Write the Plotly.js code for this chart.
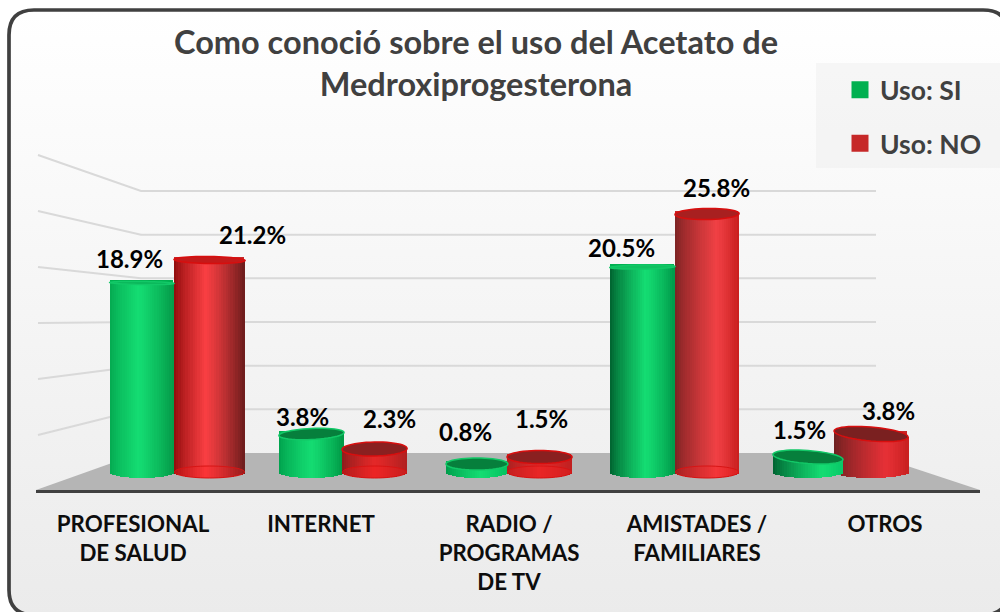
<!DOCTYPE html>
<html><head><meta charset="utf-8">
<script src="https://cdn.plot.ly/plotly-3.0.1.min.js"></script>
<style>
html,body{margin:0;padding:0;width:1000px;height:612px;overflow:hidden;background:#fff}
#bg{position:absolute;left:9px;top:10px;width:999px;height:605px;border-radius:25px;background:linear-gradient(180deg,#ffffff 0%,#fbfbfb 20%,#f3f3f3 60%,#ebebeb 100%)}
#chart{position:absolute;left:0;top:0;width:1000px;height:612px}
</style></head><body>
<div id="bg"></div><div id="chart"></div>
<script>
// ---- data ----
const categories = ['PROFESIONAL<br>DE SALUD','INTERNET','RADIO /<br>PROGRAMAS<br>DE TV','AMISTADES /<br>FAMILIARES','OTROS'];
const usoSi = [18.9, 3.8, 0.8, 20.5, 1.5];
const usoNo = [21.2, 2.3, 1.5, 25.8, 3.8];
const gridValues = [5,10,15,20,25,30];

// ---- cylinder styling / perspective (axis units and pixels) ----
const siX = [-0.211,0.81,1.807,2.804,3.801], siW = [0.386,0.392,0.373,0.392,0.422];
const noX = [0.196,1.19,2.184,3.193,4.181],  noW = [0.428,0.392,0.392,0.386,0.446];
const siRy = [1.5,5.5,6,2,6.5], noRy = [3.5,7,6.5,5.5,7];
const siTilt = [1,-3,0,-1,5],  noTilt = [1,-1,0,-1,6];
const siLeft = ['#04a850','#00a04c','#009a4a','#005f2e','#006030'];
const siRight= ['#049a48','#009845','#04c060','#009a4a','#08c868'];
const siHi = [.45,.5,.55,.55,.7];
const noLeft = ['#8c0a0a','#8a1c1c','#a82020','#7a2222','#6a2020'];
const noMid  = ['#f83e42','#e42828','#e02a2a','#f04044','#e63036'];
const noRight= ['#6b1c1c','#b02020','#c02020','#c81e1e','#c82020'];
const noHi = [.45,.5,.5,.65,.7];
const siCap = ['#0ab458','#067f3c','#067f3c','#10c060','#067f3c'];
const noCap = ['#c41a1a','#8a2020','#8a2020','#a82020','#7a2020'];
const siDx = [-12,-8.5,-11,-20.5,-8], siDy = [25,18,33,20,28];
const noDx = [42.5,14.5,1.5,9,17], noDy = [26,31,39,27,24];

// ---- pixel helpers ----
const X = p => (p-177)/166, Y = p => (472-p)/10;
const PX = p => (p-36)/944, PY = p => (490-p)/490;
const N = 30, baseRy = 6;

function hex(c){return [1,3,5].map(i=>parseInt(c.substr(i,2),16));}
function mix(a,b,t){const A=hex(a),B=hex(b);return 'rgb('+A.map((v,i)=>Math.round(v+(B[i]-v)*t)).join(',')+')';}
function shade(l,m,r,h,t){return t<h?mix(l,m,Math.pow(t/h,.8)):mix(m,r,Math.pow((t-h)/(1-h),1.2));}

function strips(val,cx,w,tilt,l,m,r,h,name){
  const x=[],y=[],base=[],col=[];
  for(let k=0;k<N;k++){
    const t=(k+.5)/N,u=2*t-1;
    const b=-(baseRy/10)*Math.sqrt(1-u*u);
    const top=val+(-tilt/2*u)/10;
    x.push(cx+(t-.5)*w); y.push(top-b); base.push(b); col.push(shade(l,m,r,h,t));
  }
  return {type:'bar',x,y,base,width:w/N*1.35,marker:{color:col,line:{width:0}},showlegend:false,hoverinfo:'skip',name};
}
function ellipse(cx,cy,w,ry,tilt){
  let d='';const n=48;
  for(let k=0;k<=n;k++){
    const a=2*Math.PI*k/n;
    const u=Math.cos(a),v=Math.sin(a);
    d+=(k?'L':'M')+(cx+u*w/2)+','+(cy+(-tilt/2*u-ry*v)/10)+' ';
  }
  return d+'Z';
}

// main series (carry real values and the legend)
const traces=[
 {type:'bar',name:'Uso: SI',x:siX,y:usoSi,width:siW.map(w=>w-.036),marker:{color:'#00b050',line:{color:'#00b050',width:5}},legendgroup:'a',hoverinfo:'y+name'},
 {type:'bar',name:'Uso: NO',x:noX,y:usoNo,width:noW.map(w=>w-.036),marker:{color:'#c62828',line:{color:'#c62828',width:5}},legendgroup:'b',hoverinfo:'y+name'}
];
const gray='#d9d9d9';
const shapes=[];
// legend backdrop
shapes.push({type:'rect',xref:'paper',yref:'paper',x0:PX(816),x1:PX(1001),y0:PY(168),y1:PY(63),fillcolor:'rgba(235,235,235,.38)',line:{width:0},layer:'below'});
// floor
shapes.push({type:'path',xref:'x',yref:'y',layer:'below',path:`M${X(36)},${Y(490)} L${X(140)},${Y(453)} L${X(868)},${Y(453)} L${X(980)},${Y(490)} Z`,fillcolor:'#b5b5b5',line:{width:0}});
// walls
gridValues.forEach(v=>{
  const back=453-v*8.733, side=491-v*11.2;
  shapes.push({type:'path',xref:'x',yref:'y',layer:'below',path:`M${X(38)},${Y(side)} L${X(141)},${Y(back)} L${X(876)},${Y(back)}`,line:{color:gray,width:2}});
});
// cylinder strips: the "otros" NO goes behind its SI neighbour
const drawOrder=[];
for(let i=0;i<5;i++){
  const si=strips(usoSi[i],siX[i],siW[i],siTilt[i],siLeft[i],'#14dc72',siRight[i],siHi[i],'si'+i);
  const no=strips(usoNo[i],noX[i],noW[i],noTilt[i],noLeft[i],noMid[i],noRight[i],noHi[i],'no'+i);
  if(i===4) drawOrder.push(no,si); else drawOrder.push(si,no);
}
traces.push(...drawOrder);
// caps and bottom rims
for(let i=0;i<5;i++){
  if(i<4) shapes.push({type:'path',xref:'x',yref:'y',path:ellipse(noX[i],0,noW[i]*.985,baseRy,0),line:{color:'#d81414',width:1},fillcolor:'rgba(255,30,30,.28)'});
  shapes.push({type:'path',xref:'x',yref:'y',path:ellipse(noX[i],usoNo[i],noW[i],noRy[i],noTilt[i]),fillcolor:noCap[i],line:{color:'#d80e0e',width:1.5}});
  shapes.push({type:'path',xref:'x',yref:'y',path:ellipse(siX[i],usoSi[i],siW[i],siRy[i],siTilt[i]),fillcolor:siCap[i],line:{color:'#12c867',width:1.5}});
}
// data labels
const labelFont={family:'Lato, sans-serif',size:24,color:'#000',weight:700};
const annotations=[];
usoSi.forEach((v,i)=>annotations.push({x:siX[i],y:v,xref:'x',yref:'y',xshift:siDx[i],yshift:siDy[i],text:v.toFixed(1)+'%',showarrow:false,font:labelFont,xanchor:'center',yanchor:'middle'}));
usoNo.forEach((v,i)=>annotations.push({x:noX[i],y:v,xref:'x',yref:'y',xshift:noDx[i],yshift:noDy[i],text:v.toFixed(1)+'%',showarrow:false,font:labelFont,xanchor:'center',yanchor:'middle'}));

const layout={
  width:1000,height:612,margin:{l:36,r:20,t:0,b:122,autoexpand:false},
  paper_bgcolor:'rgba(0,0,0,0)',plot_bgcolor:'rgba(0,0,0,0)',
  barmode:'overlay',bargap:0,showlegend:true,
  title:{text:'Como conoció sobre el uso del Acetato de<br>Medroxiprogesterona',x:.476,xref:'container',xanchor:'center',y:.9115,yref:'container',yanchor:'top',font:{family:'Lato, sans-serif',size:32.5,color:'#404040',weight:700}},
  legend:{x:PX(840),y:PY(66),xanchor:'left',yanchor:'top',bgcolor:'rgba(0,0,0,0)',traceorder:'grouped',tracegroupgap:16,itemwidth:30,itemclick:false,itemdoubleclick:false,font:{family:'Lato, sans-serif',size:26.5,color:'#404040',weight:700}},
  xaxis:{type:'linear',range:[X(36),X(980)],tickmode:'array',tickvals:categories.map((c,i)=>2+(i-2)*188/166),ticktext:categories,ticks:'',ticklen:0,ticklabelstandoff:12,showgrid:false,zeroline:false,showline:true,linecolor:'#404040',linewidth:3,tickfont:{family:'Lato, sans-serif',size:22.3,color:'#0d0d0d',weight:700},fixedrange:true},
  yaxis:{range:[-1.8,47.2],visible:false,showgrid:false,zeroline:false,fixedrange:true},
  shapes,annotations
};
// border
const bx0=PX(9),bx1=PX(1008),by0=PY(10),by1=PY(615),rx=25/944,ry=25/490;
shapes.push({type:'path',xref:'paper',yref:'paper',path:`M${bx0+rx},${by0} L${bx1-rx},${by0} Q${bx1},${by0} ${bx1},${by0-ry} L${bx1},${by1+ry} Q${bx1},${by1} ${bx1-rx},${by1} L${bx0+rx},${by1} Q${bx0},${by1} ${bx0},${by1+ry} L${bx0},${by0-ry} Q${bx0},${by0} ${bx0+rx},${by0} Z`,line:{color:'#404040',width:3.7},fillcolor:'rgba(0,0,0,0)'});

Plotly.newPlot('chart',traces,layout,{displayModeBar:false});
</script>
</body></html>
